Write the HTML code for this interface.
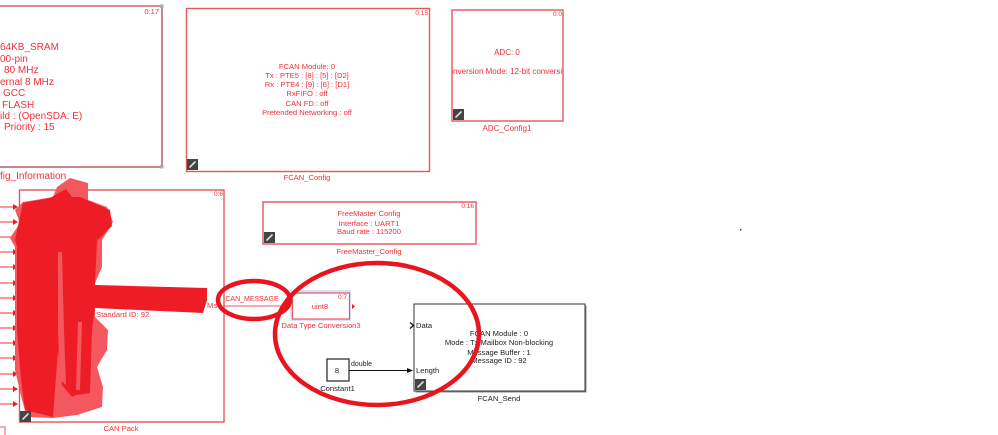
<!DOCTYPE html>
<html><head><meta charset="utf-8">
<style>
html,body{margin:0;padding:0;background:#fff;width:998px;height:435px;overflow:hidden}
svg{display:block;font-family:"Liberation Sans",sans-serif;filter:blur(0.3px)}
text{fill:#f0303a;text-anchor:middle;font-size:7.6px}
.k{fill:#222}
.s{text-anchor:end;font-size:6.5px}
.b{fill:#fff;stroke:#e8555c;stroke-width:1.4}
</style></head><body>
<svg width="998" height="435" viewBox="0 0 998 435" xmlns="http://www.w3.org/2000/svg">
<defs>
<g id="lnk"><rect width="11" height="11" fill="#444"/><path d="M2.500 8.500L8.500 2.500" stroke="#ddd" stroke-width="1.600"/></g>
<clipPath id="adc"><rect x="452" y="60" width="111" height="20"/></clipPath>
</defs>

<!-- config info -->
<rect x="-10" y="6" width="172" height="161" fill="#fff" stroke="#b56a70" stroke-width="1.600"/>
<path d="M-10 6H162" stroke="#e08088" stroke-width="1.600"/>
<rect x="160" y="4.500" width="3.500" height="3.500" fill="#aaa"/><rect x="160" y="165" width="3.500" height="3.500" fill="#aaa"/>
<text class="s" x="159" y="14" style="font-size:7.500px">0:17</text>
<text x="0" y="50" style="text-anchor:start;font-size:10px">64KB_SRAM</text>
<text x="0" y="62" style="text-anchor:start;font-size:10px">00-pin</text>
<text x="4" y="73" style="text-anchor:start;font-size:10px">80 MHz</text>
<text x="0" y="85" style="text-anchor:start;font-size:10px">ernal 8 MHz</text>
<text x="3" y="96" style="text-anchor:start;font-size:10px">GCC</text>
<text x="2" y="108" style="text-anchor:start;font-size:10px">FLASH</text>
<text x="0" y="119" style="text-anchor:start;font-size:10px">ild : (OpenSDA: E)</text>
<text x="4" y="130" style="text-anchor:start;font-size:10px">Priority : 15</text>
<text x="0" y="179" style="text-anchor:start;font-size:10px">fig_Information</text>

<!-- FCAN_Config -->
<rect class="b" x="186.500" y="8.500" width="243" height="163"/>
<text class="s" x="428" y="15">0:15</text>
<text x="307" y="69">FCAN Module: 0</text>
<text x="307" y="78">Tx : PTE5 : [8] : [5] : [D2]</text>
<text x="307" y="87">Rx : PTE4 : [9] : [6] : [D1]</text>
<text x="307" y="96">RxFIFO : off</text>
<text x="307" y="106">CAN FD : off</text>
<text x="307" y="115">Pretended Networking : off</text>
<use href="#lnk" x="187" y="159"/>
<text x="307" y="180">FCAN_Config</text>

<!-- ADC -->
<rect class="b" x="452" y="10" width="111" height="111"/>
<text class="s" x="562" y="16">0:0</text>
<text x="507" y="55" style="font-size:8px">ADC: 0</text>
<text x="507" y="74" clip-path="url(#adc)" style="font-size:8px">Conversion Mode: 12-bit conversion</text>
<use href="#lnk" x="453" y="109"/>
<text x="507" y="131" style="font-size:8px">ADC_Config1</text>

<!-- CAN Pack -->
<rect class="b" x="19.500" y="190" width="204.500" height="232"/>
<text class="s" x="223" y="196">0:6</text>
<g stroke="#f0303a" stroke-width="1" fill="#ee1c25">
<path d="M0 207H14"/><path d="M0 222H14"/><path d="M0 237H14"/><path d="M0 252H14"/><path d="M0 267H14"/><path d="M0 283H14"/><path d="M0 298H14"/><path d="M0 313H14"/><path d="M0 328H14"/><path d="M0 343H14"/><path d="M0 358H14"/><path d="M0 374H14"/><path d="M0 389H14"/><path d="M0 404H14"/>
<g stroke="none">
<path d="M13 204l5 3l-5 3z"/><path d="M13 219l5 3l-5 3z"/><path d="M13 234l5 3l-5 3z"/><path d="M13 249l5 3l-5 3z"/><path d="M13 264l5 3l-5 3z"/><path d="M13 280l5 3l-5 3z"/><path d="M13 295l5 3l-5 3z"/><path d="M13 310l5 3l-5 3z"/><path d="M13 325l5 3l-5 3z"/><path d="M13 340l5 3l-5 3z"/><path d="M13 355l5 3l-5 3z"/><path d="M13 371l5 3l-5 3z"/><path d="M13 386l5 3l-5 3z"/><path d="M13 401l5 3l-5 3z"/>
</g></g>

<!-- scribble -->
<path fill="#f4585f" d="M57 187L70 178L88 183L88 200L107 207L113 222L102 240L102 267L95 283L95 317L108 330L107 350L97 367L103 387L102 407L77 415L53 418L27 417L22 400L15 370L15 247L10 238L20 223L15 210L23 202L53 197Z"/>
<path fill="#ee1c25" d="M66 189L72 197L80 197L110 210L112 226L100 238L97 240L95 285L207 288L207 300L203 313L95 308L92 330L90 393L76 395L72 397L62 385L58 350L53 417L25 410L21 380L17 330L17 247L15 240L23 203L50 198Z"/>
<path fill="#f4585f" d="M58 252L62 252L64 330L66 385L60 380L58 330Z"/>
<path fill="#f4585f" d="M78 322L82 322L80 390L76 390Z"/>
<text x="96" y="317" style="text-anchor:start">Standard ID: 92</text>
<text x="207" y="308" style="text-anchor:start">Ms</text>
<use href="#lnk" x="20" y="411"/>
<text x="121" y="431">CAN Pack</text>
<rect x="-4" y="427" width="9" height="9" fill="#fff" stroke="#e8555c"/>

<!-- CAN_MESSAGE -->
<path d="M224 306H292" stroke="#e8555c" fill="none" stroke-width="1"/>
<text x="252" y="301" style="font-size:7px">CAN_MESSAGE</text>

<!-- FreeMaster -->
<rect class="b" x="263" y="202" width="213" height="42"/>
<text class="s" x="474" y="208">0:16</text>
<text x="369" y="216">FreeMaster Config</text>
<text x="369" y="226">Interface : UART1</text>
<text x="369" y="234">Baud rate : 115200</text>
<use href="#lnk" x="264" y="232"/>
<text x="369" y="254">FreeMaster_Config</text>

<!-- uint8 -->
<rect x="290" y="290" width="61" height="31" fill="#d5e4f7"/>
<rect x="292.500" y="293" width="57" height="26" fill="#fff" stroke="#e8555c" stroke-width="1.200"/>
<text class="s" x="347" y="299">0:7</text>
<text x="320" y="309">uint8</text>
<path d="M352 304l3 2.500l-3 2.500z" fill="#ee1c25"/>
<text x="321" y="328">Data Type Conversion3</text>

<!-- Constant -->
<rect x="327" y="359" width="22" height="22" fill="#fff" stroke="#222" stroke-width="1.200"/>
<text class="k" x="337" y="373">8</text>
<text class="k" x="337.500" y="391">Constant1</text>
<text class="k" x="351" y="366" style="text-anchor:start;font-size:7px">double</text>
<path d="M349 370.500H408" stroke="#111" fill="none"/>
<path d="M407 368l6 2.500l-6 2.500z" fill="#111"/>

<!-- FCAN_Send -->
<rect x="415.500" y="305.500" width="171" height="87" fill="#888"/>
<rect x="414" y="304" width="171" height="87" fill="#fff" stroke="#333" stroke-width="1"/>
<path d="M410 322.500l3.500 3l-3.500 3" fill="none" stroke="#111" stroke-width="1.300"/>
<text class="k" x="416" y="328" style="text-anchor:start">Data</text>
<text class="k" x="416" y="373" style="text-anchor:start">Length</text>
<text class="k" x="499" y="336">FCAN Module : 0</text>
<text class="k" x="499" y="345">Mode : Tx Mailbox Non-blocking</text>
<text class="k" x="499" y="355">Message Buffer : 1</text>
<text class="k" x="499" y="363">Message ID : 92</text>
<use href="#lnk" x="415" y="379"/>
<text class="k" x="499" y="401">FCAN_Send</text>

<!-- ellipses -->
<ellipse cx="254" cy="300" rx="36" ry="19" fill="none" stroke="#e8141e" stroke-width="4.500"/>
<ellipse cx="377" cy="334" rx="102" ry="71" fill="none" stroke="#e8141e" stroke-width="4.500"/>

<rect x="740" y="229" width="1.500" height="1.500" fill="#444"/>
</svg>
</body></html>
